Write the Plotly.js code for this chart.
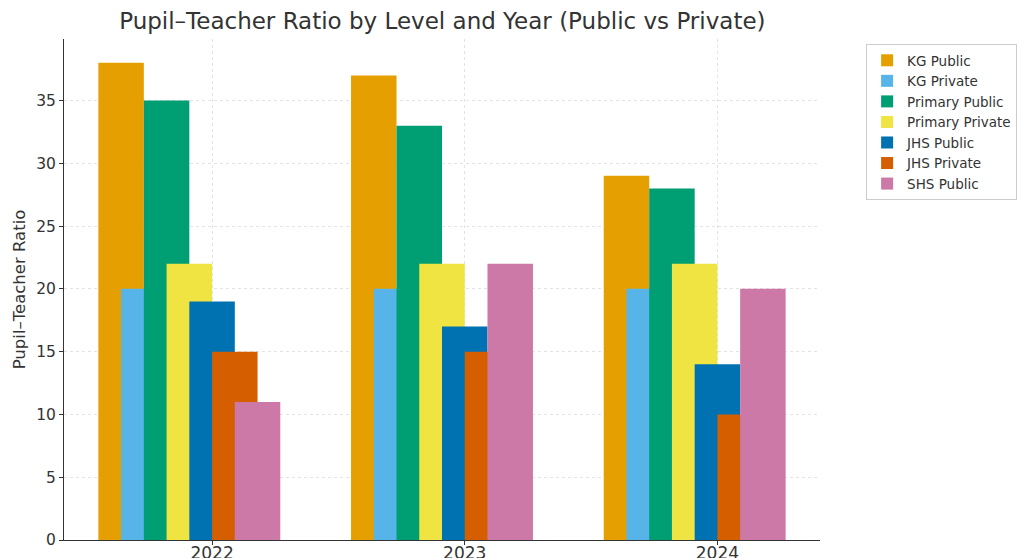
<!DOCTYPE html>
<html><head><meta charset="utf-8">
<script src="https://cdn.plot.ly/plotly-3.0.1.min.js"></script>
<style>html,body{margin:0;padding:0;background:#fff}#chart{width:1024px;height:558px}</style>
</head><body><div id="chart"></div>
<script>
const years = [2022, 2023, 2024];
const seriesNames = ["KG Public","KG Private","Primary Public","Primary Private","JHS Public","JHS Private","SHS Public"];
const kgPublic = [38, 37, 29];
const kgPrivate = [20, 20, 20];
const primaryPublic = [35, 33, 28];
const primaryPrivate = [22, 22, 22];
const jhsPublic = [19, 17, 14];
const jhsPrivate = [15, 15, 10];
const shsPublic = [11, 22, 20];
const seriesValues = [kgPublic, kgPrivate, primaryPublic, primaryPrivate, jhsPublic, jhsPrivate, shsPublic];
const colors = ["#E69F00","#56B4E9","#009E73","#F0E442","#0072B2","#D55E00","#CC79A7"];

const step = 0.09, barW = 0.18;
const traces = seriesNames.map((name, i) => ({
  type: 'bar', name: name, x: years, y: seriesValues[i],
  width: barW, offset: (i - 4) * step - barW / 2,
  marker: {color: colors[i], opacity: 1, line: {width: 0}},
  hoverinfo: 'x+y+name'
}));

const layout = {
  width: 1024, height: 558,
  margin: {l: 64, r: 204, t: 39, b: 18, autoexpand: false},
  paper_bgcolor: '#fff', plot_bgcolor: '#fff',
  barmode: 'overlay',
  font: {family: 'DejaVu Sans, sans-serif', color: '#333', size: 13},
  title: {text: 'Pupil–Teacher Ratio by Level and Year (Public vs Private)', x: 0.432, xanchor: 'center', y: 0.962, yanchor: 'middle', font: {size: 23, color: '#333'}},
  xaxis: {
    range: [2021.414, 2024.406], tickvals: years, ticktext: years.map(String),
    showgrid: true, gridcolor: '#e3e3e3', griddash: 'dot', gridwidth: 1,
    showline: true, linecolor: '#333', linewidth: 1,
    ticks: 'outside', ticklen: 4, tickcolor: '#333', tickfont: {size: 17, color: '#333'},
    ticklabelstandoff: -6,
    zeroline: false, fixedrange: true
  },
  yaxis: {
    range: [0, 39.9], tickvals: [0,5,10,15,20,25,30,35],
    showgrid: true, gridcolor: '#e3e3e3', griddash: 'dot', gridwidth: 1,
    showline: true, linecolor: '#333', linewidth: 1,
    ticks: 'outside', ticklen: 4, tickcolor: '#333', tickfont: {size: 15.5, color: '#333'},
    title: {text: 'Pupil–Teacher Ratio', font: {size: 16.5, color: '#333'}, standoff: 6},
    zeroline: false, fixedrange: true
  },
  legend: {
    x: 1.061, xanchor: 'left', y: 0.99, yanchor: 'top',
    bordercolor: '#cccccc', borderwidth: 1, bgcolor: '#fff',
    font: {size: 13.5, color: '#333'}, tracegroupgap: 0, itemwidth: 30
  },
  showlegend: true
};
Plotly.newPlot('chart', traces, layout, {displayModeBar: false, staticPlot: true});
</script></body></html>
